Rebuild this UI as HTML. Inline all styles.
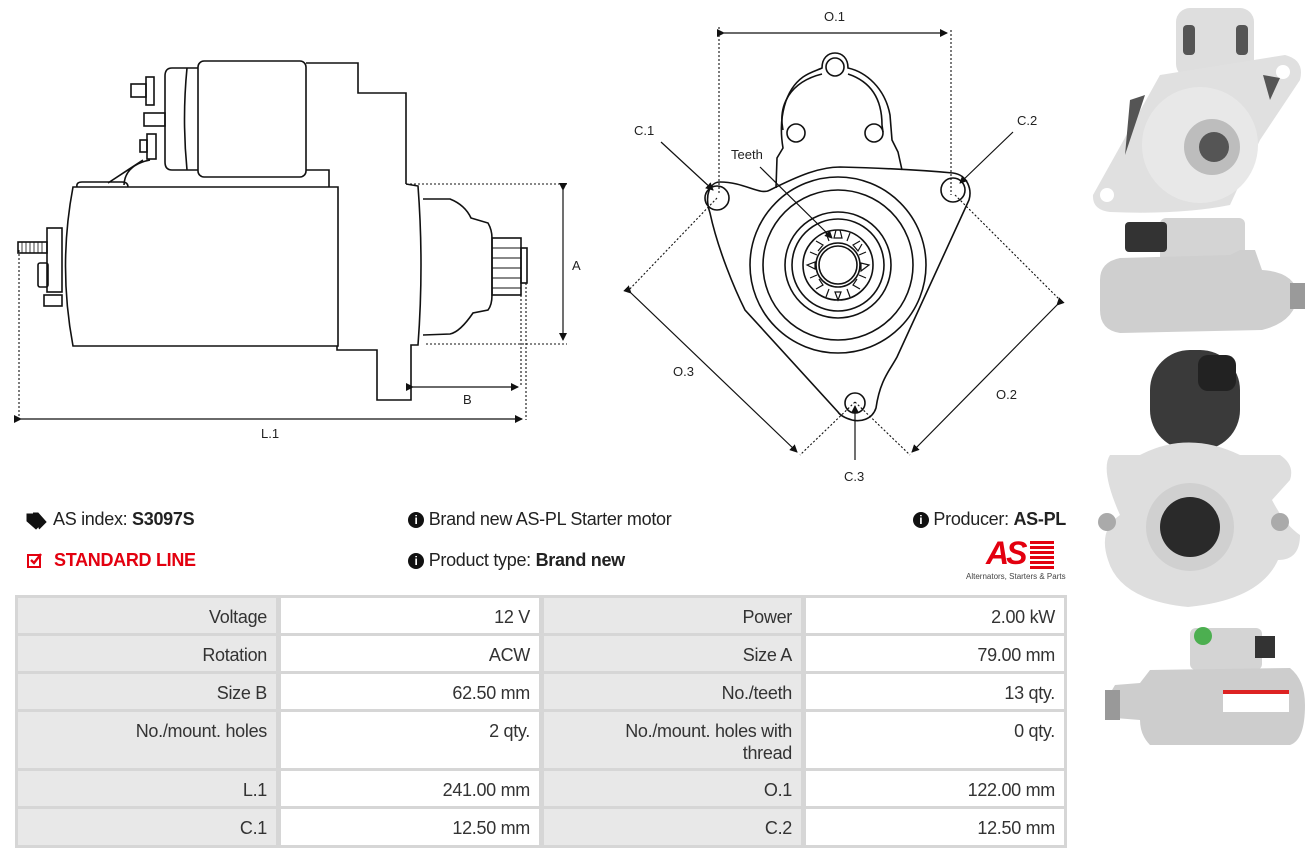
<!DOCTYPE html>
<html><head><meta charset="utf-8"><style>
body{margin:0;width:1316px;height:860px;background:#fff;position:relative;overflow:hidden;font-family:"Liberation Sans",sans-serif;color:#222}
.t{position:absolute;font-size:18px;white-space:nowrap;letter-spacing:-0.3px}
.c{position:absolute;font-size:18px;text-align:right;box-sizing:border-box;padding:8px 9px 0 0;line-height:22px;color:#333;letter-spacing:-0.3px}
.l{background:#e8e8e8}.v{background:#fff}
</style></head><body>
<svg width="1316" height="860" style="position:absolute;left:0;top:0" fill="none" stroke="#111" stroke-width="1.6" font-family="Liberation Sans, sans-serif">
<defs><marker id="a" markerWidth="8" markerHeight="8" refX="7" refY="4" orient="auto" markerUnits="userSpaceOnUse"><path d="M0,0 L8,4 L0,8z" fill="#111" stroke="none"/></marker></defs>
<!-- LEFT DRAWING -->
<path d="M73,187 L338,187 L338,346 L73,346 Q58,266 73,187z"/>
<rect x="198" y="61" width="108" height="116" rx="6"/>
<path d="M198,68 L172,68 Q165,68 165,76 L165,162 Q165,170 172,170 L198,170"/>
<path d="M187,68 Q182,119 187,170"/>
<path d="M306,63 L358,63 L358,93 L406,93 L406,184"/>
<path d="M306,170 L329,170 L329,187"/>
<path d="M406,184 L418,186 Q424,265 418,345 L411,345 L411,400 L377,400 L377,350 L337,350 L337,346"/>
<path d="M423,199 L450,199 Q465,205 471,218 L488,223 Q492,230 492,238 L492,295 Q492,305 488,310 L473,313 Q460,332 450,334 L423,335"/>
<rect x="492" y="238" width="29" height="57"/>
<path d="M492,248 H521 M492,258 H521 M492,268 H521 M492,278 H521 M492,288 H521" stroke-width="1"/>
<rect x="521" y="248" width="6" height="35"/>
<rect x="146" y="77" width="8" height="28"/><rect x="131" y="84" width="15" height="13"/>
<rect x="144" y="113" width="21" height="13"/>
<rect x="147" y="134" width="9" height="25"/><rect x="140" y="140" width="7" height="12"/>
<path d="M143,160 L108,183 M150,160 Q125,165 124,185"/>
<path d="M77,187 Q76,182 82,182 L122,182 Q128,182 128,187"/>
<rect x="47" y="228" width="15" height="64"/>
<rect x="18" y="242" width="29" height="11"/>
<path d="M22,242v11M26,242v11M30,242v11M34,242v11M38,242v11M42,242v11" stroke-width="0.8"/>
<rect x="38" y="263" width="10" height="24" rx="2"/>
<rect x="44" y="295" width="18" height="11"/>
<g stroke-dasharray="2,2" stroke-width="1.1">
<path d="M410,184 H567 M426,344 H567 M521,295 V387 M526,283 V420 M19,250 V419"/>
</g>
<g stroke-width="1.2">
<path d="M563,190 V340" marker-end="url(#a)" marker-start="url(#a)"/>
<path d="M413,387 H518" marker-end="url(#a)" marker-start="url(#a)"/>
<path d="M21,419 H522" marker-end="url(#a)" marker-start="url(#a)"/>
</g>
<g fill="#222" stroke="none" font-size="13">
<text x="572" y="270">A</text><text x="463" y="404">B</text><text x="261" y="438">L.1</text>
</g>
<!-- MIDDLE DRAWING -->
<path d="M720,182 C745,182 760,196 770,190 C800,175 820,167 840,167 C880,168 920,170 953,173 C968,175 972,190 969,200 L897,357 C890,370 880,380 876,408 C872,420 860,422 852,420 C845,418 840,415 838,412 L745,310 C735,290 718,250 710,213 C704,195 710,182 720,182z"/>
<path d="M776,188 L777,158 L783,148 C778,118 785,90 803,77 C810,72 818,70 822,68 C822,58 828,53 835,53 C842,53 848,58 848,68 C866,72 885,88 890,115 L892,140 L898,152 L902,170"/>
<path d="M783,130 C778,105 790,82 822,74 M848,74 C872,82 882,100 882,125 L883,132" />
<circle cx="835" cy="67" r="9"/><circle cx="796" cy="133" r="9"/><circle cx="874" cy="133" r="9"/>
<circle cx="717" cy="198" r="12"/><circle cx="953" cy="190" r="12"/><circle cx="855" cy="403" r="10"/>
<circle cx="838" cy="265" r="88"/><circle cx="838" cy="265" r="75"/>
<circle cx="838" cy="265" r="53"/><circle cx="838" cy="265" r="46"/><circle cx="838" cy="265" r="35"/>
<circle cx="838" cy="265" r="22"/><circle cx="838" cy="265" r="19"/>
<g stroke-width="1.2">
<path d="M836,230 l-2,8 h8 l-2,-8 M860,241 l-7,4 l5,6 l4,-7 M869,265 l-8,-2 v8 z M860,289 l-7,-4 l4,-6 M838,300 l-3,-8 h6 z M816,289 l7,-4 l-4,-6 M807,265 l8,-3 v7 z M816,241 l7,4 l-5,6 M850,233 l-3,8 M826,233 l3,8 M866,252 l-7,3 M866,278 l-7,-3 M810,278 l7,-3 M810,252 l7,3 M850,297 l-3,-8 M826,297 l3,-8"/>
</g>
<g stroke-dasharray="2,2" stroke-width="1.1">
<path d="M719,27 V195 M951,30 V195 M717,198 L626,293 M855,402 L800,455 M955,195 L1062,302 M855,402 L910,455"/>
</g>
<g stroke-width="1.2">
<path d="M724,33 H947" marker-end="url(#a)" marker-start="url(#a)"/>
<path d="M631,293 L797,452" marker-end="url(#a)" marker-start="url(#a)"/>
<path d="M1057,305 L912,452" marker-end="url(#a)" marker-start="url(#a)"/>
<path d="M661,142 L713,190" marker-end="url(#a)"/>
<path d="M1013,132 L960,183" marker-end="url(#a)"/>
<path d="M760,167 L832,238" marker-end="url(#a)"/>
<path d="M855,460 L855,406" marker-end="url(#a)"/>
</g>
<g fill="#222" stroke="none" font-size="13">
<text x="824" y="21">O.1</text><text x="634" y="135">C.1</text><text x="1017" y="125">C.2</text>
<text x="731" y="159">Teeth</text><text x="673" y="376">O.3</text><text x="996" y="399">O.2</text><text x="844" y="481">C.3</text>
</g>
<!-- PHOTOS -->
<g stroke="none">
<rect x="1176" y="8" width="78" height="70" rx="14" fill="#dedede"/>
<rect x="1183" y="25" width="12" height="30" rx="4" fill="#555"/><rect x="1236" y="25" width="12" height="30" rx="4" fill="#555"/>
<path d="M1093,195 L1160,75 L1285,55 Q1305,60 1300,80 L1260,140 L1230,205 Q1180,215 1110,212 Q1092,210 1093,195z" fill="#e0e0e0"/>
<circle cx="1200" cy="145" r="58" fill="#e8e8e8"/>
<circle cx="1212" cy="147" r="28" fill="#bdbdbd"/><circle cx="1214" cy="147" r="15" fill="#555"/>
<circle cx="1107" cy="195" r="7" fill="#fff"/><circle cx="1283" cy="72" r="7" fill="#fff"/>
<path d="M1130,100 L1145,95 L1125,155z M1263,75 L1280,78 L1270,100z" fill="#555"/>
<rect x="1160" y="218" width="85" height="46" rx="6" fill="#d4d4d4"/>
<rect x="1125" y="222" width="42" height="30" rx="4" fill="#333"/>
<path d="M1100,280 Q1100,262 1120,258 L1230,255 L1240,250 L1255,250 L1262,270 Q1295,272 1298,295 Q1295,322 1262,330 L1120,333 Q1100,330 1100,310z" fill="#cfcfcf"/>
<rect x="1290" y="283" width="15" height="26" fill="#9a9a9a"/>
<rect x="1150" y="350" width="90" height="100" rx="40" fill="#3a3a3a"/>
<rect x="1198" y="355" width="38" height="36" rx="10" fill="#222"/>
<path d="M1110,455 L1140,455 Q1188,430 1240,455 L1280,455 Q1295,465 1290,480 L1272,500 Q1285,525 1300,535 Q1300,560 1278,560 Q1260,600 1188,607 Q1120,600 1108,560 Q1098,530 1120,515 Q1100,470 1110,455z" fill="#dedede"/>
<circle cx="1190" cy="527" r="44" fill="#d0d0d0"/><circle cx="1190" cy="527" r="30" fill="#2a2a2a"/>
<circle cx="1107" cy="522" r="9" fill="#aaa"/><circle cx="1280" cy="522" r="9" fill="#aaa"/>
<rect x="1190" y="628" width="72" height="42" rx="6" fill="#d4d4d4"/>
<circle cx="1203" cy="636" r="9" fill="#4caf50"/>
<rect x="1255" y="636" width="20" height="22" fill="#333"/>
<path d="M1150,670 L1290,668 Q1305,680 1305,705 Q1305,740 1290,745 L1150,745 Q1140,735 1140,720 L1115,718 Q1102,705 1115,685 L1140,683z" fill="#cdcdcd"/>
<rect x="1105" y="690" width="15" height="30" fill="#999"/>
<rect x="1223" y="690" width="66" height="22" fill="#fff"/><rect x="1223" y="690" width="66" height="4" fill="#d22"/>
</g>
</svg>

<svg width="24" height="24" style="position:absolute;left:25px;top:510px"><path d="M2,4 L10,4 L18,12 L11,19 L2,11z M8,3 L13,3 L21,12 L14,19" fill="#111" stroke="#111" stroke-width="1"/></svg>
<div class="t" style="left:53px;top:509px">AS index: <b>S3097S</b></div>
<svg width="20" height="20" style="position:absolute;left:26px;top:551px"><rect x="2" y="4" width="12" height="12" fill="none" stroke="#e3000f" stroke-width="2"/><path d="M5,9 L8,12 L15,3" fill="none" stroke="#e3000f" stroke-width="2.4"/></svg>
<div class="t" style="left:54px;top:550px;color:#e3000f;font-weight:bold">STANDARD LINE</div>
<div class="t" style="left:408px;top:509px"><span style="display:inline-block;width:16px;height:16px;border-radius:8px;background:#111;color:#fff;font-size:12px;text-align:center;line-height:16px;font-weight:bold;vertical-align:1px">i</span> Brand new AS-PL Starter motor</div>
<div class="t" style="left:408px;top:550px"><span style="display:inline-block;width:16px;height:16px;border-radius:8px;background:#111;color:#fff;font-size:12px;text-align:center;line-height:16px;font-weight:bold;vertical-align:1px">i</span> Product type: <b>Brand new</b></div>
<div class="t" style="right:250px;top:509px"><span style="display:inline-block;width:16px;height:16px;border-radius:8px;background:#111;color:#fff;font-size:12px;text-align:center;line-height:16px;font-weight:bold;vertical-align:1px">i</span> Producer: <b>AS-PL</b></div>
<div class="t" style="left:986px;top:535px;color:#e3000f;font-size:32px;font-weight:bold;font-style:italic;letter-spacing:-3px">AS</div>
<div style="position:absolute;left:1030px;top:541px;width:24px;height:30px;background:repeating-linear-gradient(#e3000f 0 3px,#fff 3px 5px)"></div>
<div class="t" style="left:966px;top:572px;font-size:8px;color:#444;letter-spacing:0">Alternators, Starters &amp; Parts</div>

<div style="position:absolute;left:15px;top:595px;width:1052px;height:253px;background:#d6d6d6"></div>
<div class="c l" style="left:18px;top:598px;width:258px;height:35px">Voltage</div>
<div class="c v" style="left:281px;top:598px;width:258px;height:35px">12 V</div>
<div class="c l" style="left:544px;top:598px;width:257px;height:35px">Power</div>
<div class="c v" style="left:806px;top:598px;width:258px;height:35px">2.00 kW</div>
<div class="c l" style="left:18px;top:636px;width:258px;height:35px">Rotation</div>
<div class="c v" style="left:281px;top:636px;width:258px;height:35px">ACW</div>
<div class="c l" style="left:544px;top:636px;width:257px;height:35px">Size A</div>
<div class="c v" style="left:806px;top:636px;width:258px;height:35px">79.00 mm</div>
<div class="c l" style="left:18px;top:674px;width:258px;height:35px">Size B</div>
<div class="c v" style="left:281px;top:674px;width:258px;height:35px">62.50 mm</div>
<div class="c l" style="left:544px;top:674px;width:257px;height:35px">No./teeth</div>
<div class="c v" style="left:806px;top:674px;width:258px;height:35px">13 qty.</div>
<div class="c l" style="left:18px;top:712px;width:258px;height:56px">No./mount. holes</div>
<div class="c v" style="left:281px;top:712px;width:258px;height:56px">2 qty.</div>
<div class="c l" style="left:544px;top:712px;width:257px;height:56px">No./mount. holes with<br>thread</div>
<div class="c v" style="left:806px;top:712px;width:258px;height:56px">0 qty.</div>
<div class="c l" style="left:18px;top:771px;width:258px;height:35px">L.1</div>
<div class="c v" style="left:281px;top:771px;width:258px;height:35px">241.00 mm</div>
<div class="c l" style="left:544px;top:771px;width:257px;height:35px">O.1</div>
<div class="c v" style="left:806px;top:771px;width:258px;height:35px">122.00 mm</div>
<div class="c l" style="left:18px;top:809px;width:258px;height:36px">C.1</div>
<div class="c v" style="left:281px;top:809px;width:258px;height:36px">12.50 mm</div>
<div class="c l" style="left:544px;top:809px;width:257px;height:36px">C.2</div>
<div class="c v" style="left:806px;top:809px;width:258px;height:36px">12.50 mm</div>
</body></html>
